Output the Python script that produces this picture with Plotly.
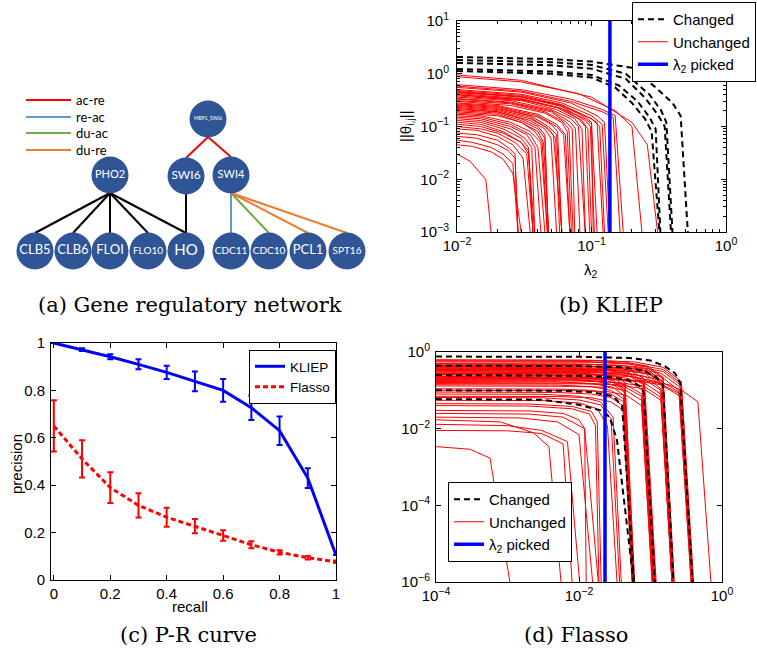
import math
import plotly.graph_objects as go

W, H = 757, 652

# ======================= DATA =======================
# (a) gene regulatory network (node layout coordinates as drawn in the figure)
node_names = ["MBP1_SWI6", "PHO2", "SWI6", "SWI4", "CLB5", "CLB6", "FLOI", "FLO10",
              "HO", "CDC11", "CDC10", "PCL1", "SPT16"]
node_x = [208, 110, 186, 231, 35, 73, 110, 148, 186, 231, 269, 308, 347]
node_y = [119, 175, 176, 175, 251, 251, 251, 251, 251, 251, 251, 251, 251]
edge_src = ["PHO2", "PHO2", "PHO2", "PHO2", "PHO2", "SWI6", "MBP1_SWI6", "MBP1_SWI6",
            "SWI4", "SWI4", "SWI4", "SWI4"]
edge_dst = ["CLB5", "CLB6", "FLOI", "FLO10", "HO", "HO", "SWI6", "SWI4",
            "CDC11", "CDC10", "PCL1", "SPT16"]
edge_type = ["none", "none", "none", "none", "none", "none", "ac-re", "ac-re",
             "re-ac", "du-ac", "du-re", "du-re"]
regulation_types = ["ac-re", "re-ac", "du-ac", "du-re"]

# (b) KLIEP regularisation paths: (lambda_2 knots, ||theta|| values)
kliep_changed = [
    ([0.01, 0.05, 0.1, 0.2, 0.3, 0.4, 0.46, 0.52], [2.08, 1.9, 1.7, 1.3, 0.55, 0.28, 0.16, 1e-3]),
    ([0.01, 0.05, 0.1, 0.18, 0.27, 0.33, 0.36, 0.40], [1.82, 1.66, 1.47, 1.0, 0.4, 0.2, 0.12, 1e-3]),
    ([0.01, 0.05, 0.1, 0.18, 0.25, 0.31, 0.35, 0.39], [1.6, 1.45, 1.25, 0.8, 0.35, 0.17, 0.1, 1e-3]),
    ([0.01, 0.05, 0.1, 0.16, 0.22, 0.27, 0.3, 0.325], [1.23, 1.1, 0.95, 0.6, 0.3, 0.15, 0.09, 1e-3]),
    ([0.01, 0.05, 0.1, 0.15, 0.2, 0.25, 0.28, 0.32], [1.13, 1.0, 0.85, 0.55, 0.28, 0.14, 0.08, 1e-3]),
]
kliep_unchanged = [
    ([0.01, 0.03, 0.1, 0.2, 0.26, 0.31], [0.95, 0.75, 0.36, 0.12, 0.045, 1e-3]),
    ([0.01, 0.03, 0.08, 0.15, 0.2, 0.237], [0.88, 0.7, 0.42, 0.2, 0.1, 1e-3]),
    ([0.01, 0.03, 0.07, 0.12, 0.15, 0.172], [0.62, 0.5, 0.33, 0.21, 0.16, 1e-3]),
    ([0.01, 0.03, 0.07, 0.12, 0.145, 0.163], [0.58, 0.47, 0.3, 0.19, 0.15, 1e-3]),
    ([0.01, 0.03, 0.07, 0.11, 0.125, 0.137], [0.55, 0.45, 0.28, 0.16, 0.12, 1e-3]),
    ([0.01, 0.03, 0.06, 0.1, 0.12, 0.133], [0.5, 0.41, 0.28, 0.16, 0.11, 1e-3]),
    ([0.01, 0.03, 0.06, 0.1, 0.115, 0.125], [0.48, 0.39, 0.26, 0.14, 0.1, 1e-3]),
    ([0.01, 0.03, 0.06, 0.095, 0.11, 0.122], [0.45, 0.37, 0.25, 0.15, 0.12, 1e-3]),
    ([0.01, 0.03, 0.06, 0.09, 0.1, 0.11], [0.46, 0.37, 0.25, 0.15, 0.12, 1e-3]),
    ([0.01, 0.03, 0.06, 0.09, 0.098, 0.105], [0.44, 0.36, 0.24, 0.13, 0.1, 1e-3]),
    ([0.01, 0.03, 0.06, 0.09, 0.1, 0.103], [0.4, 0.32, 0.22, 0.14, 0.11, 1e-3]),
    ([0.01, 0.03, 0.06, 0.085, 0.094, 0.1], [0.42, 0.34, 0.22, 0.13, 0.09, 1e-3]),
    ([0.01, 0.03, 0.055, 0.08, 0.09, 0.097], [0.4, 0.33, 0.23, 0.14, 0.1, 1e-3]),
    ([0.01, 0.03, 0.055, 0.075, 0.085, 0.09], [0.38, 0.31, 0.21, 0.14, 0.09, 1e-3]),
    ([0.01, 0.025, 0.05, 0.07, 0.08, 0.0896], [0.36, 0.31, 0.21, 0.14, 0.1, 1e-3]),
    ([0.01, 0.025, 0.05, 0.07, 0.076, 0.082], [0.34, 0.29, 0.2, 0.12, 0.09, 1e-3]),
    ([0.01, 0.025, 0.05, 0.065, 0.072, 0.075], [0.33, 0.28, 0.19, 0.12, 0.09, 1e-3]),
    ([0.01, 0.025, 0.045, 0.06, 0.068, 0.073], [0.31, 0.27, 0.19, 0.13, 0.09, 1e-3]),
    ([0.01, 0.025, 0.045, 0.06, 0.066, 0.071], [0.3, 0.25, 0.18, 0.12, 0.08, 1e-3]),
    ([0.01, 0.02, 0.04, 0.055, 0.064, 0.069], [0.28, 0.25, 0.17, 0.11, 0.07, 1e-3]),
    ([0.01, 0.02, 0.04, 0.055, 0.062, 0.069], [0.27, 0.24, 0.16, 0.1, 0.07, 1e-3]),
    ([0.01, 0.02, 0.04, 0.05, 0.056, 0.06], [0.26, 0.23, 0.15, 0.11, 0.08, 1e-3]),
    ([0.01, 0.02, 0.035, 0.048, 0.055, 0.06], [0.25, 0.22, 0.16, 0.1, 0.07, 1e-3]),
    ([0.01, 0.02, 0.035, 0.048, 0.054, 0.058], [0.24, 0.21, 0.15, 0.09, 0.06, 1e-3]),
    ([0.01, 0.02, 0.035, 0.045, 0.052, 0.0603], [0.23, 0.2, 0.14, 0.1, 0.07, 1e-3]),
    ([0.01, 0.02, 0.035, 0.045, 0.05, 0.055], [0.22, 0.19, 0.13, 0.09, 0.06, 1e-3]),
    ([0.01, 0.02, 0.03, 0.04, 0.045, 0.0477], [0.21, 0.19, 0.14, 0.1, 0.07, 1e-3]),
    ([0.01, 0.02, 0.03, 0.04, 0.045, 0.0477], [0.2, 0.18, 0.13, 0.09, 0.06, 1e-3]),
    ([0.01, 0.02, 0.03, 0.04, 0.044, 0.048], [0.19, 0.17, 0.12, 0.08, 0.05, 1e-3]),
    ([0.01, 0.02, 0.03, 0.038, 0.043, 0.047], [0.18, 0.16, 0.12, 0.08, 0.05, 1e-3]),
    ([0.01, 0.015, 0.025, 0.035, 0.042, 0.047], [0.17, 0.16, 0.12, 0.08, 0.05, 1e-3]),
    ([0.01, 0.015, 0.025, 0.035, 0.04, 0.045], [0.16, 0.15, 0.11, 0.07, 0.04, 1e-3]),
    ([0.01, 0.015, 0.025, 0.033, 0.038, 0.042], [0.15, 0.14, 0.1, 0.07, 0.04, 1e-3]),
    ([0.01, 0.015, 0.025, 0.032, 0.036, 0.0378], [0.14, 0.13, 0.09, 0.06, 0.04, 1e-3]),
    ([0.01, 0.015, 0.022, 0.03, 0.034, 0.0367], [0.13, 0.12, 0.09, 0.06, 0.04, 1e-3]),
    ([0.01, 0.015, 0.022, 0.03, 0.034, 0.0367], [0.12, 0.11, 0.08, 0.05, 0.035, 1e-3]),
    ([0.01, 0.015, 0.022, 0.03, 0.034, 0.0378], [0.11, 0.1, 0.075, 0.05, 0.03, 1e-3]),
    ([0.01, 0.015, 0.02, 0.027, 0.033, 0.0367], [0.1, 0.09, 0.075, 0.05, 0.03, 1e-3]),
    ([0.01, 0.014, 0.02, 0.026, 0.031, 0.035], [0.09, 0.085, 0.065, 0.045, 0.025, 1e-3]),
    ([0.01, 0.014, 0.02, 0.024, 0.027, 0.0284], [0.075, 0.07, 0.055, 0.04, 0.03, 1e-3]),
    ([0.01, 0.014, 0.02, 0.024, 0.027, 0.0284], [0.065, 0.06, 0.045, 0.035, 0.025, 1e-3]),
    ([0.01, 0.013, 0.018, 0.022, 0.026, 0.0284], [0.055, 0.05, 0.04, 0.03, 0.02, 1e-3]),
    ([0.01, 0.013, 0.018, 0.022, 0.026, 0.03], [0.045, 0.042, 0.033, 0.024, 0.013, 1e-3]),
    ([0.01, 0.0125, 0.0164, 0.0179], [0.03, 0.022, 0.0098, 1e-3]),
]
kliep_lambda_picked = 0.137

# (c) precision-recall curves
recall = [0.0, 0.1, 0.2, 0.3, 0.4, 0.5, 0.6, 0.7, 0.8, 0.9, 1.0]
kliep_precision = [1.0, 0.972, 0.942, 0.91, 0.876, 0.838, 0.80, 0.727, 0.63, 0.43, 0.105]
kliep_err = [0.0, 0.006, 0.011, 0.021, 0.028, 0.042, 0.048, 0.052, 0.06, 0.042, 0.0]
flasso_precision = [0.65, 0.511, 0.39, 0.315, 0.265, 0.227, 0.188, 0.149, 0.117, 0.094, 0.077]
flasso_err = [0.108, 0.079, 0.065, 0.051, 0.04, 0.03, 0.022, 0.015, 0.009, 0.007, 0.005]

# (d) Flasso regularisation paths
flasso_changed = [
    ([1e-4, 0.01, 0.05, 0.1, 0.16, 0.22, 0.26, 0.39], [0.76, 0.75, 0.7, 0.6, 0.42, 0.28, 0.155, 1e-6]),
    ([1e-4, 0.01, 0.04, 0.08, 0.12, 0.15, 0.21], [0.44, 0.43, 0.4, 0.33, 0.22, 0.14, 1e-6]),
    ([1e-4, 0.01, 0.03, 0.05, 0.07, 0.08, 0.115], [0.25, 0.24, 0.22, 0.18, 0.13, 0.09, 1e-6]),
    ([1e-4, 0.005, 0.015, 0.03, 0.04, 0.059], [0.1, 0.098, 0.09, 0.07, 0.04, 1e-6]),
    ([1e-4, 0.003, 0.01, 0.02, 0.027, 0.034, 0.058], [0.059, 0.057, 0.042, 0.03, 0.02, 0.005, 1e-6]),
]
flasso_unchanged = [
    ([1e-4, 0.015, 0.06, 0.15, 0.27, 0.4], [0.62, 0.61, 0.55, 0.4, 0.17, 1e-6]),
    ([1e-4, 0.015, 0.06, 0.15, 0.27, 0.39], [0.55, 0.54, 0.48, 0.35, 0.15, 1e-6]),
    ([1e-4, 0.015, 0.06, 0.15, 0.26, 0.38], [0.48, 0.47, 0.42, 0.31, 0.14, 1e-6]),
    ([1e-4, 0.015, 0.06, 0.14, 0.26, 0.38], [0.42, 0.41, 0.37, 0.28, 0.12, 1e-6]),
    ([1e-4, 0.015, 0.06, 0.14, 0.25, 0.37], [0.36, 0.35, 0.31, 0.23, 0.1, 1e-6]),
    ([1e-4, 0.015, 0.06, 0.13, 0.25, 0.37], [0.3, 0.29, 0.26, 0.19, 0.09, 1e-6]),
    ([1e-4, 0.015, 0.05, 0.12, 0.26, 0.39], [0.26, 0.25, 0.23, 0.17, 0.08, 1e-6]),
    ([1e-4, 0.015, 0.06, 0.14, 0.26, 0.38], [0.2, 0.198, 0.18, 0.14, 0.07, 1e-6]),
    ([1e-4, 0.01, 0.04, 0.09, 0.15, 0.21], [0.62, 0.61, 0.56, 0.43, 0.22, 1e-6]),
    ([1e-4, 0.01, 0.04, 0.09, 0.15, 0.215], [0.58, 0.57, 0.52, 0.4, 0.2, 1e-6]),
    ([1e-4, 0.01, 0.04, 0.09, 0.15, 0.21], [0.5, 0.49, 0.45, 0.35, 0.17, 1e-6]),
    ([1e-4, 0.01, 0.04, 0.09, 0.145, 0.21], [0.44, 0.43, 0.4, 0.31, 0.15, 1e-6]),
    ([1e-4, 0.01, 0.04, 0.09, 0.15, 0.21], [0.4, 0.39, 0.36, 0.29, 0.14, 1e-6]),
    ([1e-4, 0.01, 0.04, 0.085, 0.145, 0.205], [0.38, 0.37, 0.34, 0.27, 0.13, 1e-6]),
    ([1e-4, 0.01, 0.04, 0.085, 0.14, 0.2], [0.33, 0.32, 0.29, 0.23, 0.11, 1e-6]),
    ([1e-4, 0.01, 0.04, 0.08, 0.14, 0.2], [0.28, 0.27, 0.25, 0.2, 0.1, 1e-6]),
    ([1e-4, 0.01, 0.035, 0.08, 0.14, 0.2], [0.22, 0.215, 0.2, 0.16, 0.08, 1e-6]),
    ([1e-4, 0.01, 0.035, 0.08, 0.14, 0.205], [0.18, 0.175, 0.16, 0.13, 0.065, 1e-6]),
    ([1e-4, 0.01, 0.035, 0.08, 0.14, 0.2], [0.15, 0.148, 0.14, 0.11, 0.055, 1e-6]),
    ([1e-4, 0.008, 0.025, 0.05, 0.082, 0.12], [0.45, 0.44, 0.41, 0.34, 0.2, 1e-6]),
    ([1e-4, 0.008, 0.025, 0.05, 0.08, 0.118], [0.38, 0.37, 0.35, 0.29, 0.17, 1e-6]),
    ([1e-4, 0.008, 0.025, 0.05, 0.08, 0.115], [0.35, 0.345, 0.33, 0.27, 0.15, 1e-6]),
    ([1e-4, 0.008, 0.025, 0.05, 0.08, 0.115], [0.32, 0.31, 0.29, 0.24, 0.14, 1e-6]),
    ([1e-4, 0.008, 0.025, 0.05, 0.078, 0.112], [0.27, 0.265, 0.25, 0.2, 0.12, 1e-6]),
    ([1e-4, 0.008, 0.025, 0.05, 0.078, 0.11], [0.23, 0.225, 0.21, 0.17, 0.1, 1e-6]),
    ([1e-4, 0.008, 0.025, 0.045, 0.076, 0.11], [0.19, 0.185, 0.17, 0.14, 0.08, 1e-6]),
    ([1e-4, 0.008, 0.025, 0.045, 0.075, 0.108], [0.16, 0.155, 0.145, 0.12, 0.07, 1e-6]),
    ([1e-4, 0.008, 0.025, 0.045, 0.075, 0.105], [0.13, 0.127, 0.12, 0.1, 0.055, 1e-6]),
    ([1e-4, 0.008, 0.025, 0.045, 0.075, 0.106], [0.1, 0.098, 0.093, 0.075, 0.04, 1e-6]),
    ([1e-4, 0.005, 0.015, 0.03, 0.044, 0.06], [0.35, 0.345, 0.32, 0.26, 0.16, 1e-6]),
    ([1e-4, 0.005, 0.015, 0.03, 0.044, 0.059], [0.3, 0.295, 0.27, 0.22, 0.13, 1e-6]),
    ([1e-4, 0.005, 0.015, 0.03, 0.043, 0.058], [0.25, 0.245, 0.23, 0.18, 0.11, 1e-6]),
    ([1e-4, 0.005, 0.015, 0.03, 0.043, 0.058], [0.22, 0.217, 0.2, 0.16, 0.1, 1e-6]),
    ([1e-4, 0.005, 0.015, 0.03, 0.043, 0.058], [0.2, 0.197, 0.18, 0.14, 0.09, 1e-6]),
    ([1e-4, 0.005, 0.015, 0.03, 0.042, 0.057], [0.17, 0.167, 0.15, 0.12, 0.075, 1e-6]),
    ([1e-4, 0.005, 0.015, 0.028, 0.042, 0.056], [0.14, 0.137, 0.125, 0.1, 0.06, 1e-6]),
    ([1e-4, 0.005, 0.015, 0.028, 0.042, 0.056], [0.11, 0.108, 0.1, 0.08, 0.05, 1e-6]),
    ([1e-4, 0.005, 0.015, 0.028, 0.041, 0.055], [0.09, 0.088, 0.08, 0.065, 0.04, 1e-6]),
    ([1e-4, 0.005, 0.015, 0.028, 0.042, 0.056], [0.07, 0.069, 0.064, 0.05, 0.03, 1e-6]),
    ([1e-4, 0.003, 0.01, 0.02, 0.03, 0.039], [0.08, 0.079, 0.07, 0.05, 0.02, 1e-6]),
    ([1e-4, 0.003, 0.01, 0.02, 0.028, 0.037], [0.065, 0.064, 0.056, 0.042, 0.018, 1e-6]),
    ([1e-4, 0.003, 0.01, 0.018, 0.025, 0.034], [0.055, 0.054, 0.047, 0.033, 0.012, 1e-6]),
    ([1e-4, 0.002, 0.008, 0.015, 0.018, 0.0204], [0.045, 0.044, 0.038, 0.028, 0.015, 1e-6]),
    ([1e-4, 0.002, 0.008, 0.014, 0.017, 0.019], [0.04, 0.039, 0.033, 0.024, 0.012, 1e-6]),
    ([1e-4, 0.002, 0.006, 0.01, 0.012, 0.0126], [0.03, 0.029, 0.025, 0.017, 0.01, 1e-6]),
    ([1e-4, 2e-3, 6e-3, 0.012, 0.0186], [0.025, 0.024, 0.02, 0.01, 1e-6]),
    ([1e-4, 1.5e-3, 5e-3, 0.01, 0.0155], [0.02, 0.019, 0.015, 0.007, 1e-6]),
    ([1e-4, 8e-4, 2.3e-3, 3.8e-3, 5.6e-3], [0.017, 0.015, 0.0078, 0.0034, 1e-6]),
    ([1e-4, 1e-3, 3e-3, 6.9e-3, 0.0102], [0.013, 0.012, 0.009, 0.0046, 1e-6]),
    ([1e-4, 1e-3, 3e-3, 0.006, 0.008], [0.009, 0.0088, 0.0075, 0.004, 1e-6]),
    ([1e-4, 3e-4, 5.7e-4, 1.08e-3], [0.0034, 0.0029, 0.0017, 1e-6]),
    ([1e-4, 0.02, 0.08, 0.18, 0.275, 0.46, 0.7], [0.2, 0.198, 0.18, 0.14, 0.1, 0.05, 1e-6]),
]
flasso_lambda_picked = 0.0231

# tick labels
kliep_xticks = [1e-2, 1e-1, 1e0]
kliep_yticks = [1e-3, 1e-2, 1e-1, 1e0, 1e1]
flasso_xticks = [1e-4, 1e-2, 1e0]
flasso_yticks = [1e-6, 1e-4, 1e-2, 1e0]
pr_ticks = [0, 0.2, 0.4, 0.6, 0.8, 1.0]
pr_ticklabels = ["0", "0.2", "0.4", "0.6", "0.8", "1"]

# ======================= STYLE =======================
SANS = "Liberation Sans, Arial, sans-serif"
SERIF = "DejaVu Serif, serif"
NET_FONT = "Lato, Open Sans, sans-serif"
NODE_COLOR = "#2F5597"
NODE_R = 18
EDGE_COLORS = {"none": "black", "ac-re": "#FF0000", "re-ac": "#5B9BD5",
               "du-ac": "#70AD47", "du-re": "#ED7D31"}
NODE_FONT_SIZES = {"MBP1_SWI6": 5, "PHO2": 11, "SWI6": 12, "SWI4": 11, "CLB5": 13,
                   "CLB6": 13, "FLOI": 13, "FLO10": 10, "HO": 15, "CDC11": 10,
                   "CDC10": 10, "PCL1": 13, "SPT16": 10}


def px_x(p):
    return p / W


def px_y(p):
    return 1 - p / H


def sup_label(v):
    e = int(round(math.log10(v)))
    s = str(abs(e))
    return "10<sup>" + ("\u2212" + s if e < 0 else s) + "</sup>"


def join_paths(paths):
    xs, ys = [], []
    for px_, py_ in paths:
        xs += list(px_) + [None]
        ys += list(py_) + [None]
    return xs, ys


def minor_vals(lo, hi):
    return [k * 10.0 ** e for e in range(lo, hi) for k in range(2, 10)]


fig = go.Figure()

# ---------------- (a) network ----------------
pos = {n: (x, y) for n, x, y in zip(node_names, node_x, node_y)}
for et in ["none"] + regulation_types:
    ex, ey = [], []
    for s, d, t in zip(edge_src, edge_dst, edge_type):
        if t != et:
            continue
        ex += [pos[s][0], pos[d][0], None]
        ey += [pos[s][1] + NODE_R, pos[d][1] - NODE_R, None]
    fig.add_trace(go.Scatter(x=ex, y=ey, mode="lines", xaxis="x4", yaxis="y4",
                             line=dict(color=EDGE_COLORS[et], width=2),
                             showlegend=False, hoverinfo="skip"))
fig.add_trace(go.Scatter(
    x=node_x, y=node_y, mode="markers+text", xaxis="x4", yaxis="y4",
    marker=dict(size=2 * NODE_R + 1, color=NODE_COLOR, line=dict(width=0)),
    text=node_names, textposition="middle center",
    textfont=dict(family=NET_FONT, color="white",
                  size=[NODE_FONT_SIZES[n] for n in node_names]),
    showlegend=False, hoverinfo="skip"))

# legend of regulation types (panel a)
LEG_A_Y = [100, 117, 133, 150]
shapes = []
annotations = []
for t, ly in zip(regulation_types, LEG_A_Y):
    shapes.append(dict(type="line", xref="x4", yref="y4", x0=26, x1=71, y0=ly, y1=ly,
                       line=dict(color=EDGE_COLORS[t], width=2)))
    annotations.append(dict(xref="x4", yref="y4", x=74, y=ly, text=t, showarrow=False,
                            xanchor="left", yanchor="middle",
                            font=dict(family=NET_FONT, size=13, color="black")))

# ---------------- (b) KLIEP ----------------
rx, ry = join_paths(kliep_unchanged)
fig.add_trace(go.Scatter(x=rx, y=ry, mode="lines", xaxis="x", yaxis="y",
                         line=dict(color="#FF0000", width=1), name="Unchanged",
                         legend="legend", legendrank=2, hoverinfo="skip"))
bx, by = join_paths(kliep_changed)
fig.add_trace(go.Scatter(x=bx, y=by, mode="lines", xaxis="x", yaxis="y",
                         line=dict(color="black", width=2, dash="6px,4px"), name="Changed",
                         legend="legend", legendrank=1, hoverinfo="skip"))
fig.add_trace(go.Scatter(x=[kliep_lambda_picked, kliep_lambda_picked], y=[1e-3, 10],
                         mode="lines", xaxis="x", yaxis="y",
                         line=dict(color="#0000FF", width=3.5),
                         name="\u03bb<sub>2</sub> picked",
                         legend="legend", legendrank=3, hoverinfo="skip"))

# ---------------- (c) P-R curve ----------------
fig.add_trace(go.Scatter(x=recall, y=kliep_precision, mode="lines", xaxis="x2", yaxis="y2",
                         line=dict(color="#0000FF", width=3), name="KLIEP",
                         error_y=dict(type="data", array=kliep_err, color="#0000FF",
                                      thickness=2, width=3),
                         legend="legend2", hoverinfo="skip"))
fig.add_trace(go.Scatter(x=recall, y=flasso_precision, mode="lines", xaxis="x2", yaxis="y2",
                         line=dict(color="#FF0000", width=3, dash="5px,3px"), name="Flasso",
                         error_y=dict(type="data", array=flasso_err, color="#FF0000",
                                      thickness=2, width=3),
                         legend="legend2", hoverinfo="skip"))

# ---------------- (d) Flasso ----------------
rx, ry = join_paths(flasso_unchanged)
fig.add_trace(go.Scatter(x=rx, y=ry, mode="lines", xaxis="x3", yaxis="y3",
                         line=dict(color="#FF0000", width=1), name="Unchanged",
                         legend="legend3", legendrank=2, hoverinfo="skip"))
bx, by = join_paths(flasso_changed)
fig.add_trace(go.Scatter(x=bx, y=by, mode="lines", xaxis="x3", yaxis="y3",
                         line=dict(color="black", width=2, dash="6px,4px"), name="Changed",
                         legend="legend3", legendrank=1, hoverinfo="skip"))
fig.add_trace(go.Scatter(x=[flasso_lambda_picked, flasso_lambda_picked], y=[1e-6, 1],
                         mode="lines", xaxis="x3", yaxis="y3",
                         line=dict(color="#0000FF", width=3.5),
                         name="\u03bb<sub>2</sub> picked",
                         legend="legend3", legendrank=3, hoverinfo="skip"))

# ---------------- axes ----------------
tickfont = dict(family=SANS, size=15, color="black")
common = dict(showline=True, linecolor="black", linewidth=1, mirror="allticks",
              ticks="inside", ticklen=5, tickcolor="black", showgrid=False,
              zeroline=False, tickfont=tickfont)

layout = dict(
    width=W, height=H, margin=dict(l=0, r=0, t=0, b=0, pad=0, autoexpand=False),
    paper_bgcolor="white", plot_bgcolor="white",
    xaxis=dict(common, type="log", range=[-2, 0], domain=[px_x(457), px_x(726)], anchor="y",
               tickmode="array", tickvals=kliep_xticks,
               ticktext=[sup_label(v) for v in kliep_xticks],
               minor=dict(tickmode="array", tickvals=minor_vals(-2, 0), ticks="inside",
                          ticklen=3, tickcolor="black")),
    yaxis=dict(common, type="log", range=[-3, 1], domain=[px_y(232), px_y(21)], anchor="x",
               tickmode="array", tickvals=kliep_yticks,
               ticktext=[sup_label(v) for v in kliep_yticks], ticklabelstandoff=4,
               minor=dict(tickmode="array", tickvals=minor_vals(-3, 1), ticks="inside",
                          ticklen=3, tickcolor="black")),
    xaxis2=dict(common, range=[-0.01, 1], domain=[px_x(51), px_x(336)], anchor="y2",
                tickmode="array", tickvals=pr_ticks, ticktext=pr_ticklabels),
    yaxis2=dict(common, range=[0, 1], domain=[px_y(580), px_y(343)], anchor="x2",
                tickmode="array", tickvals=pr_ticks, ticktext=pr_ticklabels,
                ticklabelstandoff=2),
    xaxis3=dict(common, type="log", range=[-4, 0], domain=[px_x(436), px_x(722)], anchor="y3",
                tickmode="array", tickvals=flasso_xticks,
                ticktext=[sup_label(v) for v in flasso_xticks]),
    yaxis3=dict(common, type="log", range=[-6, 0], domain=[px_y(582), px_y(352)], anchor="x3",
                tickmode="array", tickvals=flasso_yticks,
                ticktext=[sup_label(v) for v in flasso_yticks], ticklabelstandoff=2),
    xaxis4=dict(range=[0, 380], domain=[0, px_x(380)], anchor="y4", visible=False,
                fixedrange=True),
    yaxis4=dict(range=[320, 0], domain=[px_y(320), 1], anchor="x4", visible=False,
                fixedrange=True),
    legend=dict(x=px_x(632), y=px_y(2), xanchor="left", yanchor="top",
                bgcolor="white", bordercolor="black", borderwidth=1,
                font=dict(family=SANS, size=15, color="black"), tracegroupgap=0),
    legend2=dict(x=px_x(249), y=px_y(350), xanchor="left", yanchor="top",
                 bgcolor="white", bordercolor="black", borderwidth=1,
                 font=dict(family=SANS, size=13.5, color="black"), tracegroupgap=0),
    legend3=dict(x=px_x(448), y=px_y(482), xanchor="left", yanchor="top",
                 bgcolor="white", bordercolor="black", borderwidth=1,
                 font=dict(family=SANS, size=15, color="black"), tracegroupgap=0),
    shapes=shapes,
)

# captions and axis titles
captions = [("(a) Gene regulatory network", 190, 305), ("(b) KLIEP", 611, 305),
            ("(c) P-R curve", 188, 635), ("(d) Flasso", 576, 635)]
for txt, cx, cy in captions:
    annotations.append(dict(xref="paper", yref="paper", x=px_x(cx), y=px_y(cy), text=txt,
                            showarrow=False, xanchor="center", yanchor="middle",
                            font=dict(family=SERIF, size=21, color="black")))
axis_titles = [("\u03bb<sub>2</sub>", 591, 270, 0), ("||\u03b8<sub>i,j</sub>||", 406, 126, -90),
               ("recall", 190, 606, 0), ("precision", 16, 464, -90)]
for txt, cx, cy, ang in axis_titles:
    annotations.append(dict(xref="paper", yref="paper", x=px_x(cx), y=px_y(cy), text=txt,
                            showarrow=False, xanchor="center", yanchor="middle",
                            textangle=ang, font=dict(family=SANS, size=15, color="black")))
layout["annotations"] = annotations

fig.update_layout(**layout)
fig.write_html("out.html")
